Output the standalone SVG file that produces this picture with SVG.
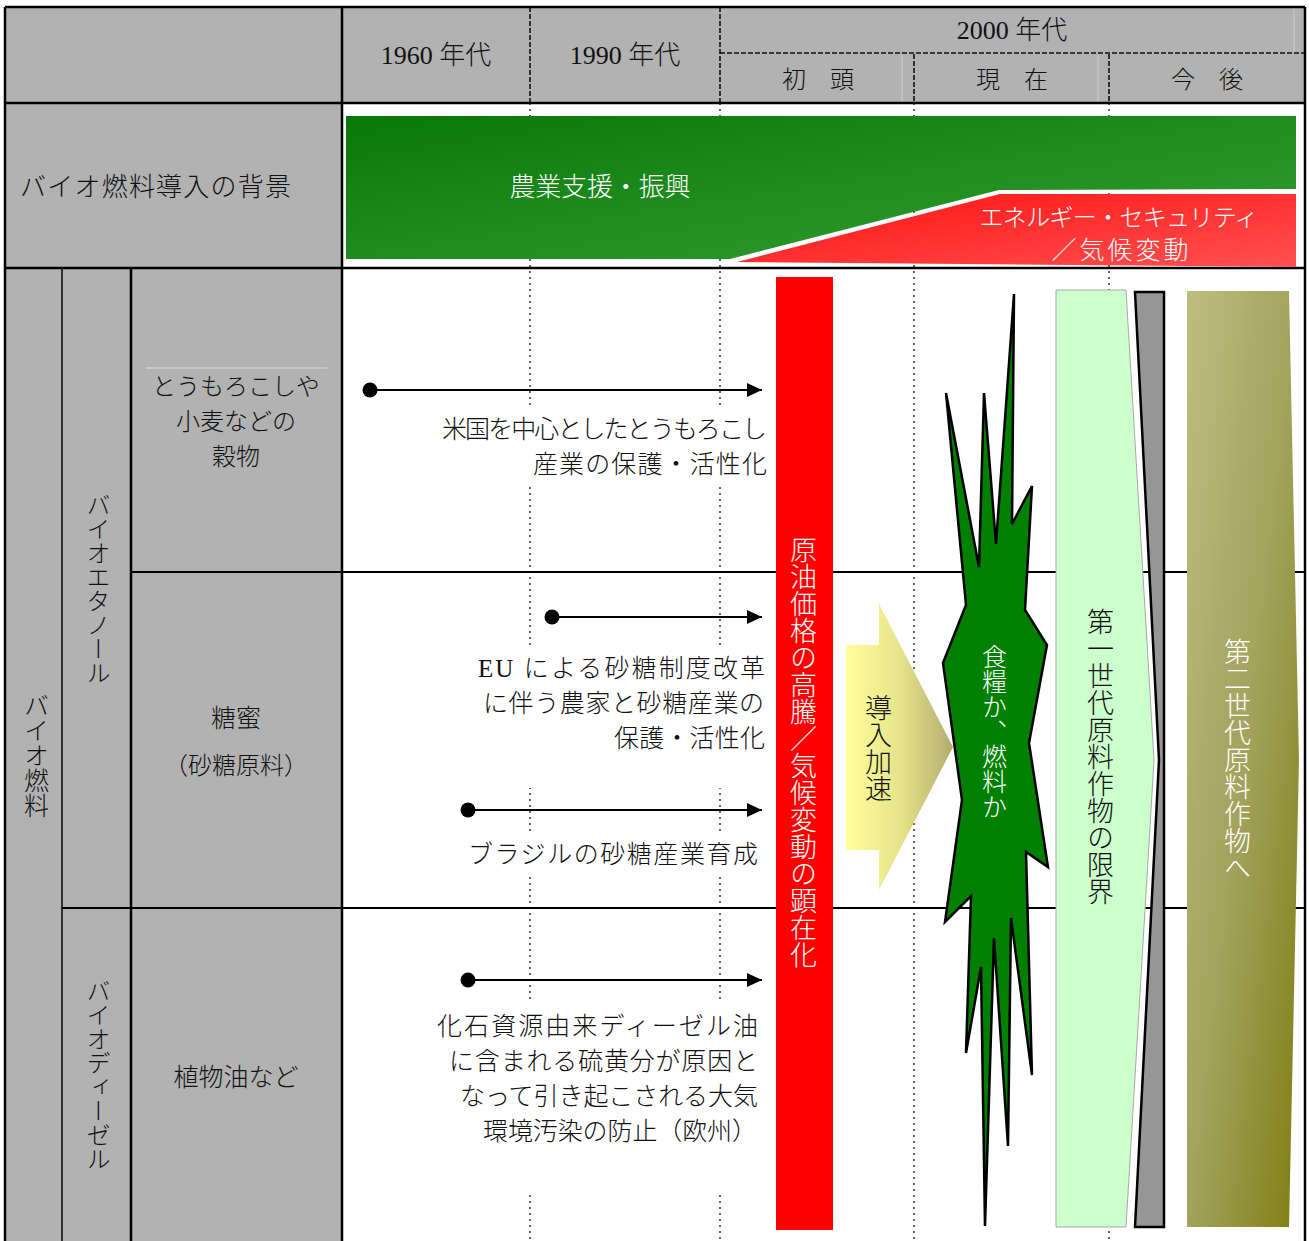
<svg xmlns="http://www.w3.org/2000/svg" width="1309" height="1241" viewBox="0 0 1309 1241">
<style>
.cell{fill:#b2b2b2}
.bl{stroke:#000;stroke-width:2.5;fill:none}
.bt{stroke:#000;stroke-width:1.8;fill:none}
.hd{stroke:#111;stroke-width:1.6;stroke-dasharray:5 2;fill:none}
.dt{stroke:#333;stroke-width:1.5;stroke-dasharray:2 4;fill:none}
.fl{stroke:#cfcfcf;stroke-width:1;fill:none}
.t{font-family:'Liberation Serif','Noto Sans CJK JP',serif;font-weight:300;fill:#111}
.w{fill:#fff}
.v{writing-mode:vertical-rl}
.box{fill:#fff}
.arrow{stroke:#000;stroke-width:2;fill:none}
</style>
<defs>
<linearGradient id="gGreen" x1="0" y1="0" x2="1" y2="1">
<stop offset="0" stop-color="#087808"/>
<stop offset="1" stop-color="#36a036"/>
</linearGradient>
<linearGradient id="gRed" x1="0" y1="0" x2="1" y2="1">
<stop offset="0" stop-color="#ff1212"/>
<stop offset="1" stop-color="#ff5050"/>
</linearGradient>
<linearGradient id="gYel" x1="0" y1="0" x2="1" y2="0">
<stop offset="0" stop-color="#ffff9c"/>
<stop offset="0.5" stop-color="#e6e48a"/>
<stop offset="1" stop-color="#b3ad6e"/>
</linearGradient>
<linearGradient id="gOlive" x1="0" y1="0" x2="1" y2="1">
<stop offset="0" stop-color="#bdbd80"/>
<stop offset="0.5" stop-color="#a3a35e"/>
<stop offset="1" stop-color="#7e7e12"/>
</linearGradient>
<marker id="ah" markerUnits="userSpaceOnUse" markerWidth="16" markerHeight="14" refX="15" refY="7" orient="auto">
<path d="M0,0 L15,7 L0,14 z" fill="#000"/>
</marker>
<marker id="dot" markerUnits="userSpaceOnUse" markerWidth="16" markerHeight="16" refX="8" refY="8">
<circle cx="8" cy="8" r="7.5" fill="#000"/>
</marker>
</defs>

<rect x="0" y="0" width="1309" height="1241" fill="#fff"/>

<g id="table">
<rect class="cell" x="5" y="7" width="1300" height="96"/>
<rect class="cell" x="5" y="103" width="337" height="165"/>
<rect class="cell" x="5" y="268" width="337" height="973"/>
<line class="fl" x1="902" y1="55" x2="902" y2="103"/>
<line class="fl" x1="1098" y1="55" x2="1098" y2="103"/>
<line class="fl" x1="1294" y1="8" x2="1294" y2="52"/>
<line x1="146" y1="368" x2="327" y2="368" stroke="#d8d8d8" stroke-width="1"/>
<line class="hd" x1="530" y1="7" x2="530" y2="103"/>
<line class="hd" x1="720" y1="7" x2="720" y2="103"/>
<line class="hd" x1="914" y1="54" x2="914" y2="103"/>
<line class="hd" x1="1109" y1="54" x2="1109" y2="103"/>
<line class="hd" x1="720" y1="53" x2="1305" y2="53"/>
<line class="dt" x1="530" y1="103" x2="530" y2="1241"/>
<line class="dt" x1="720" y1="103" x2="720" y2="1241"/>
<line class="dt" x1="914" y1="103" x2="914" y2="1241"/>
<line class="dt" x1="1109" y1="103" x2="1109" y2="1241"/>
<line class="bl" x1="5" y1="7" x2="1305" y2="7"/>
<line class="bl" x1="5" y1="103" x2="1305" y2="103"/>
<line class="bl" x1="5" y1="268" x2="1305" y2="268"/>
<line class="bl" x1="5" y1="7" x2="5" y2="1241"/>
<line class="bl" x1="342" y1="7" x2="342" y2="1241"/>
<line class="bl" x1="1305" y1="7" x2="1305" y2="1241"/>
<line x1="62" y1="268" x2="62" y2="1241" stroke="#222" stroke-width="1.8"/>
<line class="bl" x1="131" y1="268" x2="131" y2="1241"/>
<line class="bt" x1="131" y1="572" x2="1305" y2="572"/>
<line class="bt" x1="62" y1="908" x2="1305" y2="908"/>
</g>

<g id="header-labels" class="t">
<text x="436" y="55" font-size="26" text-anchor="middle" dominant-baseline="central">1960 年代</text>
<text x="625" y="55" font-size="26" text-anchor="middle" dominant-baseline="central">1990 年代</text>
<text x="1012" y="30" font-size="26" text-anchor="middle" dominant-baseline="central">2000 年代</text>
<text x="818" y="80" font-size="24" text-anchor="middle" dominant-baseline="central">初　頭</text>
<text x="1012" y="80" font-size="24" text-anchor="middle" dominant-baseline="central">現　在</text>
<text x="1207" y="80" font-size="24" text-anchor="middle" dominant-baseline="central">今　後</text>
</g>

<g id="row-labels" class="t">
<text x="20" y="187" font-size="26" textLength="271" dominant-baseline="central">バイオ燃料導入の背景</text>
<text class="v" x="34" y="755" font-size="25" text-anchor="middle">バイオ燃料</text>
<text class="v" x="96" y="589" font-size="24" text-anchor="middle">バイオエタノール</text>
<text class="v" x="96" y="1075" font-size="24" text-anchor="middle">バイオディーゼル</text>
<text x="236" y="387" font-size="24" text-anchor="middle" dominant-baseline="central">とうもろこしや</text>
<text x="236" y="422" font-size="24" text-anchor="middle" dominant-baseline="central">小麦などの</text>
<text x="236" y="457" font-size="24" text-anchor="middle" dominant-baseline="central">穀物</text>
<text x="236" y="718" font-size="25" text-anchor="middle" dominant-baseline="central">糖蜜</text>
<text x="236" y="766" font-size="24" text-anchor="middle" dominant-baseline="central">（砂糖原料）</text>
<text x="236" y="1077" font-size="25" text-anchor="middle" dominant-baseline="central">植物油など</text>
</g>

<g id="background-agri">
<polygon points="346,116 1296,116 1296,189 999,190 730,259 346,259" fill="url(#gGreen)"/>
<text class="t w" x="600" y="187" font-size="26" textLength="181" text-anchor="middle" dominant-baseline="central">農業支援・振興</text>
</g>
<g id="background-energy">
<polygon points="1000,194 1296,194 1296,267 737,262" fill="url(#gRed)"/>
<text class="t w" x="1119" y="218" font-size="24" textLength="279" text-anchor="middle" dominant-baseline="central">エネルギー・セキュリティ</text>
<text class="t w" x="1120" y="250" font-size="25" textLength="137" text-anchor="middle" dominant-baseline="central">／気候変動</text>
</g>

<g id="note-us">
<rect class="box" x="430" y="406" width="342" height="78"/>
<text class="t" x="442" y="429" font-size="25" textLength="325" dominant-baseline="central">米国を中心としたとうもろこし</text>
<text class="t" x="533" y="464" font-size="25" textLength="234" dominant-baseline="central">産業の保護・活性化</text>
</g>
<g id="note-eu">
<rect class="box" x="470" y="646" width="302" height="142"/>
<text class="t" x="478" y="668" font-size="25" textLength="287" dominant-baseline="central">EU による砂糖制度改革</text>
<text class="t" x="483" y="703" font-size="25" textLength="281" dominant-baseline="central">に伴う農家と砂糖産業の</text>
<text class="t" x="614" y="738" font-size="25" textLength="151" dominant-baseline="central">保護・活性化</text>
</g>
<g id="note-brazil">
<rect class="box" x="460" y="832" width="310" height="42"/>
<text class="t" x="468" y="854" font-size="25" textLength="290" dominant-baseline="central">ブラジルの砂糖産業育成</text>
</g>
<g id="note-diesel">
<rect class="box" x="430" y="1001" width="342" height="194"/>
<text class="t" x="437" y="1026" font-size="25" textLength="321" dominant-baseline="central">化石資源由来ディーゼル油</text>
<text class="t" x="449" y="1061" font-size="25" textLength="309" dominant-baseline="central">に含まれる硫黄分が原因と</text>
<text class="t" x="460" y="1096" font-size="25" textLength="298" dominant-baseline="central">なって引き起こされる大気</text>
<text class="t" x="483" y="1131" font-size="25" textLength="274" dominant-baseline="central">環境汚染の防止（欧州）</text>
</g>

<g id="connectors">
<line class="arrow" x1="370" y1="390" x2="762" y2="390" marker-start="url(#dot)" marker-end="url(#ah)"/>
<line class="arrow" x1="552" y1="617" x2="762" y2="617" marker-start="url(#dot)" marker-end="url(#ah)"/>
<line class="arrow" x1="468" y1="810" x2="762" y2="810" marker-start="url(#dot)" marker-end="url(#ah)"/>
<line class="arrow" x1="468" y1="980" x2="762" y2="980" marker-start="url(#dot)" marker-end="url(#ah)"/>
</g>

<g id="oil-price">
<rect x="776" y="277" width="57" height="953" fill="#ff0000"/>
<text class="t w v" x="801" y="752" font-size="27" text-anchor="middle">原油価格の高騰／気候変動の顕在化</text>
</g>

<g id="acceleration">
<polygon points="846,645 879,645 879,604 953,747 879,890 879,850 846,850" fill="url(#gYel)"/>
<text class="t v" x="876" y="748" font-size="27" text-anchor="middle">導入加速</text>
</g>

<g id="food-or-fuel">
<polygon points="946,393 979,567 984,393 996,544 1014,294 1012,524 1032,486 1025,610 1047,645 1029,743 1048,867 1026,852 1032,1075 1011,918 1008,1146 994,938 985,1226 981,967 966,1053 971,896 945,922 962,800 943,663 966,605" fill="#008000" stroke="#000" stroke-width="2.5" stroke-linejoin="miter"/>
<text class="t w v" x="992" y="731" font-size="25" text-anchor="middle">食糧か、燃料か</text>
</g>

<g id="first-gen">
<polygon points="1056,290 1126,290 1154,760 1126,1227 1056,1227" fill="#ccffcc" stroke="#a8a8a8" stroke-width="1"/>
<text class="t v" x="1098" y="757" font-size="27" text-anchor="middle">第一世代原料作物の限界</text>
</g>

<g id="limit-bar">
<polygon points="1135,292 1164,292 1164,1227 1135,1227 1159,760" fill="#969696" stroke="#000" stroke-width="2.5"/>
</g>

<g id="second-gen">
<polygon points="1187,291 1289,291 1299,760 1289,1227 1187,1227" fill="url(#gOlive)"/>
<text class="t w v" x="1235" y="760" font-size="27" text-anchor="middle">第二世代原料作物へ</text>
</g>
</svg>
